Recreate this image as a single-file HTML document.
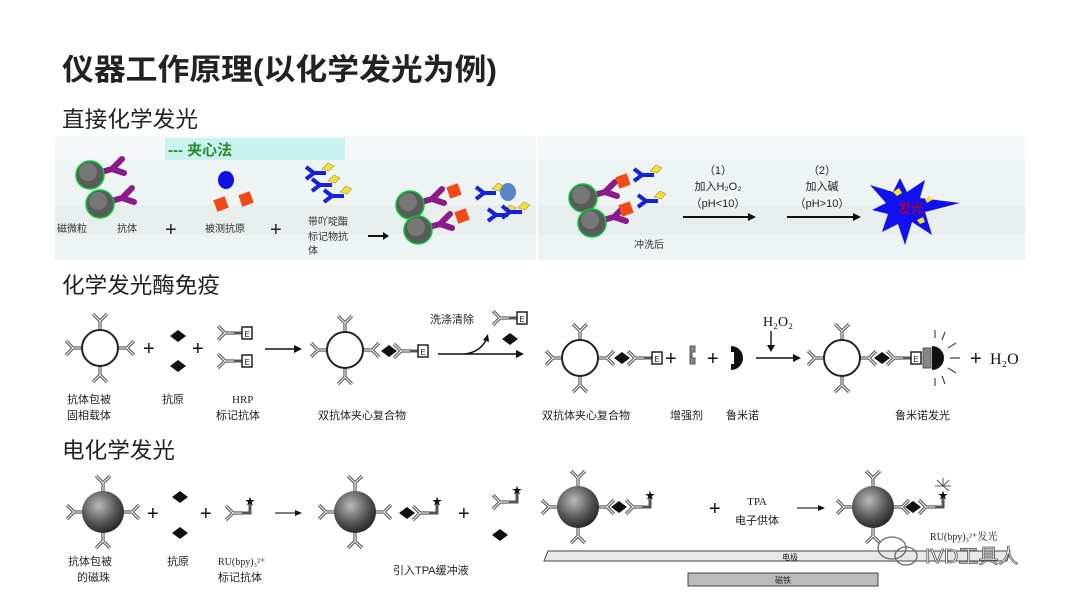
<!DOCTYPE html>
<html><head><meta charset="utf-8"><style>
html,body{margin:0;padding:0;background:#fff;width:1080px;height:602px;overflow:hidden}
svg{display:block}
text{font-family:"Liberation Sans","Noto Sans CJK SC",sans-serif}
.s{font-family:"Liberation Serif","Noto Serif CJK SC",serif}
</style></head><body>
<svg width="1080" height="602" viewBox="0 0 1080 602" xmlns="http://www.w3.org/2000/svg">
<defs>
 <!-- antibody outward along +x: stem then V opening outward -->
 <g id="ab"><path d="M0,0 L9,0 M9,0 L16,-7 M9,0 L16,7" stroke="#555" stroke-width="3.2" fill="none"/><path d="M0,0 L9,0 M9,0 L16,-7 M9,0 L16,7" stroke="#fff" stroke-width="1" fill="none"/></g>
 <g id="circ">
  <use href="#ab" transform="translate(-18,0) rotate(180)"/>
  <use href="#ab" transform="translate(18,0)"/>
  <use href="#ab" transform="translate(0,-18) rotate(-90)"/>
  <use href="#ab" transform="translate(0,18) rotate(90)"/>
  <circle r="18" fill="#fff" stroke="#222" stroke-width="2"/>
 </g>
 <radialGradient id="sg" cx="0.4" cy="0.35" r="0.7"><stop offset="0" stop-color="#bbb"/><stop offset="0.6" stop-color="#555"/><stop offset="1" stop-color="#222"/></radialGradient>
 <g id="sph">
  <use href="#ab" transform="translate(-20,0) rotate(180)"/>
  <use href="#ab" transform="translate(20,0)"/>
  <use href="#ab" transform="translate(0,-20) rotate(-90)"/>
  <use href="#ab" transform="translate(0,20) rotate(90)"/>
  <circle r="21" fill="url(#sg)"/>
 </g>
 <g id="hrp"><use href="#ab" transform="translate(12,0) rotate(180)"/><path d="M12,0 L20,0" stroke="#555" stroke-width="3"/><rect x="20" y="-6" width="10" height="12" fill="#fff" stroke="#222" stroke-width="1.5"/><text x="25" y="4" font-size="8" text-anchor="middle" fill="#222">E</text></g>
 <g id="ru"><use href="#ab" transform="translate(12,0) rotate(180)"/><path d="M12,0 L20,0 L20,-10" stroke="#555" stroke-width="3" fill="none"/><text x="20" y="-8" font-size="10" text-anchor="middle" fill="#111">★</text></g>
 <path id="dia" d="M0,-6 L8,0 L0,6 L-8,0Z" fill="#111"/>
 <g id="pab"><path d="M0,0 L14,-4 L24,-14 M14,-4 L26,0" stroke="#8b1a8b" stroke-width="6" fill="none" stroke-linecap="round"/></g>
 <g id="bab"><path d="M0,0 L14,0 M2,0 L-6,-6 M2,0 L-6,6" stroke="#1522d8" stroke-width="4" fill="none"/><path d="M10,-4 l6,-6 l6,3 l-5,5z" fill="#f5e12a" stroke="#996" stroke-width="0.6"/></g>
 <g id="ball"><circle r="14" fill="#5a5a5a" stroke="#0c3" stroke-width="1.5"/><circle r="9" cx="-2" cy="-3" fill="#777"/></g>
</defs>

<!-- headings -->
<text x="62" y="80" font-size="30" font-weight="bold" fill="#222" textLength="435" lengthAdjust="spacingAndGlyphs">仪器工作原理(以化学发光为例)</text>
<text x="62" y="127" font-size="22" fill="#222" textLength="136" lengthAdjust="spacingAndGlyphs">直接化学发光</text>
<text x="62" y="293" font-size="22" fill="#222" textLength="158" lengthAdjust="spacingAndGlyphs">化学发光酶免疫</text>
<text x="62" y="458" font-size="22" fill="#222" textLength="113" lengthAdjust="spacingAndGlyphs">电化学发光</text>

<!-- banner -->
<rect x="55" y="136" width="970" height="124" fill="#eef3f4"/>
<rect x="55" y="136" width="970" height="24" fill="#f4f8f8"/>
<rect x="55" y="205" width="970" height="30" fill="#e8eded"/>
<rect x="165" y="138" width="180" height="22" fill="#c9f2f0"/>
<text x="168" y="155" font-size="15" font-weight="bold" fill="#2a8a2a">--- 夹心法</text>
<rect x="536" y="136" width="2" height="124" fill="#fff"/>
<!-- left banner items -->
<g transform="translate(90,175)"><use href="#pab" transform="translate(8,-2)"/><use href="#ball"/></g>
<g transform="translate(100,204)"><use href="#pab" transform="translate(8,-2)"/><use href="#ball"/></g>
<text x="57" y="232" font-size="10" fill="#333">磁微粒</text><text x="117" y="232" font-size="10" fill="#333">抗体</text>
<text x="165" y="236" font-size="20" fill="#222">+</text>
<ellipse cx="226" cy="180" rx="8" ry="9" fill="#1010e0"/>
<rect x="215" y="198" width="12" height="12" fill="#f24a15" transform="rotate(-20 221 204)"/>
<rect x="240" y="193" width="12" height="12" fill="#f24a15" transform="rotate(-20 246 199)"/>
<text x="205" y="232" font-size="10" fill="#333">被测抗原</text>
<text x="270" y="236" font-size="20" fill="#222">+</text>
<use href="#bab" transform="translate(312,173)"/><use href="#bab" transform="translate(318,185)"/><use href="#bab" transform="translate(330,196)"/>
<text x="308" y="225" font-size="10" fill="#333">带吖啶酯</text><text x="308" y="240" font-size="10" fill="#333">标记物抗</text><text x="308" y="254" font-size="10" fill="#333">体</text>
<path d="M368,236 L383,236" stroke="#111" stroke-width="2"/><path d="M383,232 L389,236 L383,240z" fill="#111"/>
<g transform="translate(410,205)"><use href="#pab" transform="translate(8,-2)"/><use href="#ball"/></g>
<g transform="translate(418,230)"><use href="#pab" transform="translate(8,-2)"/><use href="#ball"/></g>
<rect x="448" y="185" width="12" height="12" fill="#f24a15" transform="rotate(-20 454 191)"/>
<rect x="456" y="210" width="12" height="12" fill="#f24a15" transform="rotate(-20 462 216)"/>
<use href="#bab" transform="translate(482,193)"/><use href="#bab" transform="translate(494,215)"/><use href="#bab" transform="translate(508,212)"/>
<ellipse cx="508" cy="192" rx="8" ry="9" fill="#5a86c8"/>
<!-- right banner -->
<g transform="translate(583,198)"><use href="#pab" transform="translate(8,-2)"/><use href="#ball"/></g>
<g transform="translate(592,223)"><use href="#pab" transform="translate(8,-2)"/><use href="#ball"/></g>
<rect x="617" y="175" width="12" height="12" fill="#f24a15" transform="rotate(-20 623 181)"/>
<rect x="620" y="203" width="12" height="12" fill="#f24a15" transform="rotate(-20 626 209)"/>
<use href="#bab" transform="translate(640,175)"/><use href="#bab" transform="translate(644,201)"/>
<text x="634" y="248" font-size="10" fill="#333">冲洗后</text>
<text x="718" y="174" font-size="11" fill="#222" text-anchor="middle">（1）</text>
<text x="718" y="190" font-size="11" fill="#222" text-anchor="middle">加入H₂O₂</text>
<text x="718" y="207" font-size="11" fill="#222" text-anchor="middle">（pH&lt;10）</text>
<path d="M683,217 L750,217" stroke="#111" stroke-width="2"/><path d="M748,213 L756,217 L748,221z" fill="#111"/>
<text x="822" y="174" font-size="11" fill="#222" text-anchor="middle">（2）</text>
<text x="822" y="190" font-size="11" fill="#222" text-anchor="middle">加入碱</text>
<text x="822" y="207" font-size="11" fill="#222" text-anchor="middle">（pH&gt;10）</text>
<path d="M787,217 L855,217" stroke="#111" stroke-width="2"/><path d="M853,213 L861,217 L853,221z" fill="#111"/>
<polygon points="870,185 893,192 900,178 907,192 925,180 920,198 960,203 925,212 932,235 912,222 905,245 898,224 882,232 888,214 872,210 886,203" fill="#1010f0"/>
<text x="898" y="213" font-size="13" fill="#c00">发光</text>
<path d="M893,192 l6,-4 l3,5 l-5,3z M917,220 l6,-3 l2,5 l-5,2z M925,199 l5,-3 l2,4 l-5,3z" fill="#f5e12a"/>

<!-- Row 2: enzyme immunoassay -->
<use href="#circ" transform="translate(100,348)"/>
<text x="143" y="355" font-size="20" fill="#111">+</text>
<use href="#dia" transform="translate(178,336)"/><use href="#dia" transform="translate(178,366)"/>
<text x="192" y="355" font-size="20" fill="#111">+</text>
<use href="#hrp" transform="translate(222,333)"/><use href="#hrp" transform="translate(222,361)"/>
<path d="M265,349 L296,349" stroke="#111" stroke-width="1.6"/><path d="M294,345 L302,349 L294,353z" fill="#111"/>
<use href="#circ" transform="translate(345,350)"/>
<use href="#dia" transform="translate(389,351)"/>
<use href="#hrp" transform="translate(398,351)"/>
<path d="M438,354 L518,354" stroke="#111" stroke-width="1.6"/><path d="M516,350 L524,354 L516,358z" fill="#111"/>
<path d="M465,354 Q480,352 486,340" stroke="#111" stroke-width="1.4" fill="none"/><path d="M483,340 L488,334 L489,342z" fill="#111"/>
<text x="430" y="323" font-size="11" fill="#222">洗涤清除</text>
<use href="#hrp" transform="translate(497,318)"/>
<use href="#dia" transform="translate(510,339)"/>
<text x="67" y="403" font-size="11" fill="#222">抗体包被</text><text x="67" y="419" font-size="11" fill="#222">固相载体</text>
<text x="162" y="403" font-size="11" fill="#222">抗原</text>
<text x="232" y="403" font-size="11" fill="#222" class="s">HRP</text><text x="216" y="419" font-size="11" fill="#222">标记抗体</text>
<text x="318" y="419" font-size="11" fill="#222">双抗体夹心复合物</text>
<use href="#circ" transform="translate(580,358)"/>
<use href="#dia" transform="translate(622,358)"/>
<use href="#hrp" transform="translate(632,358)"/>
<text x="665" y="365" font-size="20" fill="#111">+</text>
<path d="M690,346 h5 v6 h-3 v6 h3 v6 h-5z" fill="#888" stroke="#555"/>
<text x="707" y="365" font-size="20" fill="#111">+</text>
<path d="M731,346 a12,12 0 0 1 0,24 v-6 h3 v-12 h-3z" fill="#111"/>
<text x="763" y="326" font-size="14" fill="#111" class="s">H₂O₂</text>
<path d="M771,331 L771,347" stroke="#111" stroke-width="1.4"/><path d="M767,345 L771,352 L775,345z" fill="#111"/>
<path d="M756,358 L795,358" stroke="#111" stroke-width="1.6"/><path d="M793,354 L801,358 L793,362z" fill="#111"/>
<use href="#circ" transform="translate(842,358)"/>
<use href="#dia" transform="translate(882,358)"/>
<use href="#hrp" transform="translate(891,358)"/>
<rect x="923" y="348" width="8" height="20" fill="#888" stroke="#555"/>
<path d="M932,346 a12,12 0 0 1 0,24z" fill="#111"/>
<g stroke="#444" stroke-width="1.2"><path d="M950,358h10M948,348l8,-5M948,368l8,5M942,340l3,-8M942,376l3,8M935,338v-8M935,378v8"/></g>
<text x="970" y="365" font-size="20" fill="#111">+</text>
<text x="990" y="364" font-size="16" fill="#111" class="s">H₂O</text>
<text x="542" y="419" font-size="11" fill="#222">双抗体夹心复合物</text>
<text x="670" y="419" font-size="11" fill="#222">增强剂</text><text x="726" y="419" font-size="11" fill="#222">鲁米诺</text>
<text x="895" y="419" font-size="11" fill="#222">鲁米诺发光</text>

<!-- Row 3: electrochemiluminescence -->
<use href="#sph" transform="translate(103,512)"/>
<text x="147" y="520" font-size="20" fill="#111">+</text>
<use href="#dia" transform="translate(180,497)"/><use href="#dia" transform="translate(180,533)"/>
<text x="200" y="520" font-size="20" fill="#111">+</text>
<use href="#ru" transform="translate(230,513)"/>
<path d="M275,513 L297,513" stroke="#333" stroke-width="1.2"/><path d="M295,510 L302,513 L295,516z" fill="#111"/>
<use href="#sph" transform="translate(355,512)"/>
<use href="#dia" transform="translate(407,513)"/>
<use href="#ru" transform="translate(417,513)"/>
<text x="458" y="520" font-size="20" fill="#111">+</text>
<use href="#ru" transform="translate(497,502)"/>
<use href="#dia" transform="translate(500,535)"/>
<text x="68" y="565" font-size="11" fill="#222">抗体包被</text><text x="77" y="581" font-size="11" fill="#222">的磁珠</text>
<text x="167" y="565" font-size="11" fill="#222">抗原</text>
<text x="218" y="565" font-size="10" fill="#222" class="s">RU(bpy)₃²⁺</text><text x="218" y="581" font-size="11" fill="#222">标记抗体</text>
<text x="393" y="574" font-size="11" fill="#222">引入TPA缓冲液</text>
<use href="#sph" transform="translate(578,507)"/>
<use href="#dia" transform="translate(619,507)"/>
<use href="#ru" transform="translate(630,507)"/>
<text x="709" y="515" font-size="20" fill="#111">+</text>
<text x="757" y="505" font-size="11" fill="#222" text-anchor="middle" class="s">TPA</text>
<text x="757" y="524" font-size="11" fill="#222" text-anchor="middle">电子供体</text>
<path d="M797,508 L820,508" stroke="#333" stroke-width="1.2"/><path d="M818,505 L825,508 L818,511z" fill="#111"/>
<use href="#sph" transform="translate(873,507)"/>
<use href="#dia" transform="translate(913,507)"/>
<use href="#ru" transform="translate(923,507)"/>
<g stroke="#555" stroke-width="1"><path d="M943,486h-8M943,486h8M943,486v-8M943,486l-6,-6M943,486l6,-6M943,486l6,5"/></g>
<text x="930" y="540" font-size="10" fill="#222" class="s">RU(bpy)₃²⁺发光</text>
<polygon points="548,551 1010,551 1007,561 544,561" fill="#e8e8e8" stroke="#444" stroke-width="1"/>
<text x="782" y="560" font-size="8" fill="#222">电极</text>
<rect x="688" y="573" width="190" height="13" fill="#bbb" stroke="#444" stroke-width="1"/>
<text x="775" y="583" font-size="8" fill="#222">磁铁</text>
<!-- watermark -->
<g fill="none" stroke="#666" stroke-width="1.3"><ellipse cx="892" cy="548" rx="14" ry="11"/><ellipse cx="906" cy="556" rx="11" ry="9"/></g>
<text x="925" y="563" font-size="20" fill="#fff" stroke="#555" stroke-width="0.8">IVD工具人</text>
</svg>
</body></html>
